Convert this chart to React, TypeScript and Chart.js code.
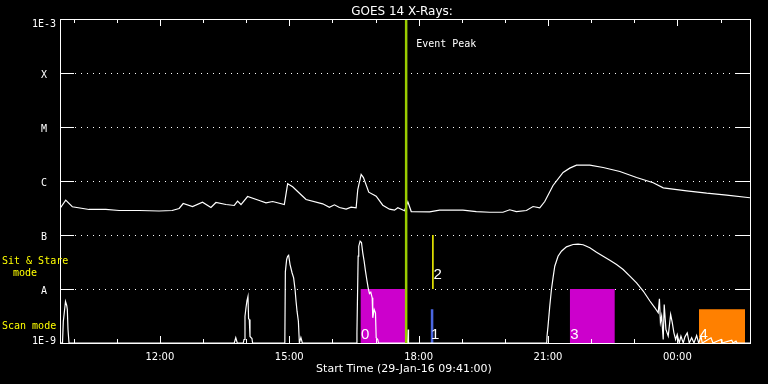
import React, { useEffect, useRef } from "react";
import { Chart, registerables } from "chart.js";

Chart.register(...registerables);

// ---- axis setup (hours since 00:00 on 29-Jan-16; 24+ = next day) ----
const xMin = 9.6833; // 09:41
const xMax = 25.6833; // 01:41
const xTickHours = [10, 11, 12, 13, 14, 15, 16, 17, 18, 19, 20, 21, 22, 23, 24, 25];
const xLabelHours = [12, 15, 18, 21, 24];
const xLabelText = ["12:00", "15:00", "18:00", "21:00", "00:00"];
const yTickValues = [1e-9, 1e-8, 1e-7, 1e-6, 1e-5, 1e-4, 1e-3];
const yTickLabels = ["1E-9", "A", "B", "C", "M", "X", "1E-3"];

// ---- long channel (1-8 A) flux, W/m^2 ----
const longTimes = [
  9.683, 9.816, 9.969, 10.357, 10.745, 11.054, 11.518, 11.982, 12.284, 12.446,
  12.540, 12.756, 12.988, 13.183, 13.299, 13.532, 13.724, 13.801, 13.880, 14.033,
  14.305, 14.460, 14.614, 14.885, 14.962, 15.078, 15.310, 15.389, 15.775, 15.930,
  16.047, 16.163, 16.318, 16.434, 16.550, 16.588, 16.667, 16.720, 16.843, 17.015,
  17.168, 17.324, 17.440, 17.517, 17.672, 17.749, 17.828, 18.253, 18.485, 19.026,
  19.337, 19.646, 19.955, 20.111, 20.266, 20.499, 20.652, 20.808, 20.924, 21.116,
  21.349, 21.504, 21.660, 21.969, 22.278, 22.666, 23.053, 23.439, 23.671, 24.214,
  24.679, 25.143, 25.684,
];
const longFlux = [
  3.10e-7, 4.41e-7, 3.33e-7, 2.97e-7, 2.97e-7, 2.84e-7, 2.84e-7, 2.78e-7, 2.84e-7, 3.10e-7,
  3.83e-7, 3.37e-7, 4.05e-7, 3.23e-7, 4.00e-7, 3.67e-7, 3.52e-7, 4.23e-7, 3.67e-7, 5.16e-7,
  4.35e-7, 3.95e-7, 4.17e-7, 3.67e-7, 8.88e-7, 7.81e-7, 5.23e-7, 4.54e-7, 3.78e-7, 3.27e-7,
  3.62e-7, 3.23e-7, 3.01e-7, 3.27e-7, 3.19e-7, 6.96e-7, 1.32e-6, 1.16e-6, 6.21e-7, 5.23e-7,
  3.56e-7, 3.01e-7, 2.88e-7, 3.19e-7, 2.81e-7, 4.12e-7, 2.72e-7, 2.69e-7, 2.88e-7, 2.88e-7,
  2.72e-7, 2.64e-7, 2.64e-7, 2.93e-7, 2.72e-7, 2.84e-7, 3.37e-7, 3.19e-7, 4.17e-7, 8.26e-7,
  1.44e-6, 1.73e-6, 1.96e-6, 1.96e-6, 1.78e-6, 1.50e-6, 1.16e-6, 9.26e-7, 7.48e-7, 6.59e-7,
  5.94e-7, 5.46e-7, 4.89e-7,
];

// ---- short channel (0.5-4 A) flux, W/m^2 ----
const shortTimes = [
  9.683, 9.741, 9.760, 9.811, 9.839, 9.853, 9.869, 9.892, 13.724, 13.759,
  13.794, 13.933, 13.950, 13.973, 13.996, 14.019, 14.042, 14.056, 14.073, 14.089,
  14.135, 14.149, 14.897, 14.909, 14.939, 14.962, 14.985, 15.018, 15.064, 15.101,
  15.134, 15.157, 15.180, 15.211, 15.234, 15.269, 15.303, 16.564, 16.569, 16.597,
  16.611, 16.643, 16.674, 16.704, 16.736, 16.767, 16.797, 16.829, 16.859, 16.890,
  16.922, 16.936, 16.969, 16.999, 17.015, 17.052, 17.069, 17.742, 17.754, 17.765,
  20.970, 20.977, 21.000, 21.040, 21.079, 21.116, 21.156, 21.232, 21.311, 21.427,
  21.581, 21.697, 21.813, 21.969, 22.124, 22.278, 22.433, 22.589, 22.742, 22.898,
  23.053, 23.207, 23.362, 23.478, 23.555, 23.583, 23.606, 23.634, 23.671, 23.694,
  23.734, 23.787, 23.843, 23.880, 23.919, 23.959, 23.996, 24.042, 24.082, 24.135,
  24.175, 24.228, 24.275, 24.330, 24.384, 24.446, 24.493, 24.547, 24.577, 24.779,
  24.825, 25.011, 25.034, 25.260, 25.290, 25.359, 25.383, 25.684,
];
const shortFlux = [
  1e-9, 1e-9, 2.5e-9, 5.87e-9, 4.95e-9, 4.17e-9, 1.78e-9, 1e-9, 1e-9, 1.25e-9,
  1e-9, 1e-9, 1.16e-9, 3.13e-9, 4.49e-9, 6.12e-9, 7.26e-9, 2.84e-9, 2.72e-9, 1.32e-9,
  1.21e-9, 1e-9, 1e-9, 2.08e-8, 3.52e-8, 4.05e-8, 4.23e-8, 2.84e-8, 2.0e-8, 1.61e-8,
  9.79e-9, 5.94e-9, 3.88e-9, 2.53e-9, 1e-9, 1.26e-9, 1e-9, 1e-9, 1.56e-9, 4.05e-8,
  6.2e-8, 7.68e-8, 7.26e-8, 4.68e-8, 3.27e-8, 2.14e-8, 1.50e-8, 1.05e-8, 8.26e-9, 8.72e-9,
  6.87e-9, 2.93e-9, 4.17e-9, 3.62e-9, 1.25e-9, 1.16e-9, 1e-9, 1e-9, 1.78e-9, 1e-9,
  1e-9, 1.34e-9, 2.05e-9, 4.80e-9, 9.79e-9, 1.61e-8, 2.64e-8, 4.05e-8, 5.01e-8, 6.04e-8,
  6.67e-8, 6.75e-8, 6.60e-8, 5.79e-8, 4.80e-8, 4.05e-8, 3.41e-8, 2.84e-8, 2.30e-8, 1.73e-8,
  1.30e-8, 9.18e-9, 5.99e-9, 4.49e-9, 3.62e-9, 6.59e-9, 2.40e-9, 3.13e-9, 1.16e-9, 5.16e-9,
  1.78e-9, 1.34e-9, 3.37e-9, 2.40e-9, 1.54e-9, 1.16e-9, 1.44e-9, 1e-9, 1.34e-9, 1e-9,
  1.30e-9, 1.54e-9, 1e-9, 1.25e-9, 1e-9, 1.38e-9, 1e-9, 1.32e-9, 1e-9, 1.25e-9,
  1e-9, 1.16e-9, 1e-9, 1.13e-9, 1e-9, 1.08e-9, 1e-9, 1e-9,
];

// ---- event peak and observing blocks ----
const eventPeakTime = 17.71;
const scanStart = [16.65, 18.276, 21.504, 24.5];
const scanEnd = [17.71, 18.346, 22.549, 25.568];
const scanTop = [1e-8, 4.2e-9, 1e-8, 4.2e-9];
const scanColors = ["#cc00cc", "#4a66e0", "#cc00cc", "#ff8000"];
const sitStareTime = 18.33;
const sitStareRange = [1e-8, 1e-7];
const blockLabelText = ["0", "1", "2", "3", "4"];
const blockLabelTime = [16.65, 18.276, 18.33, 21.504, 24.5];
const blockLabelFlux = [1.19e-9, 1.19e-9, 1.53e-8, 1.19e-9, 1.19e-9];

const WHITE = "#ffffff";
const YELLOW = "#ffff00";
const GREEN = "#99cc00";
const MONO = '"DejaVu Sans Mono", monospace';
const SANS = '"DejaVu Sans", sans-serif';

const overlayPlugin = {
  id: "goesOverlay",
  beforeDraw(chart: any) {
    const ctx = chart.ctx;
    ctx.save();
    ctx.fillStyle = "#000";
    ctx.fillRect(0, 0, chart.width, chart.height);
    ctx.restore();
  },
  beforeDatasetsDraw(chart: any) {
    const { ctx, chartArea: a, scales } = chart;
    const y = scales.y;
    ctx.save();
    ctx.strokeStyle = WHITE;
    ctx.lineWidth = 1;
    ctx.setLineDash([1, 5]);
    yTickValues.slice(1, -1).forEach((v) => {
      const py = Math.round(y.getPixelForValue(v)) + 0.5;
      ctx.beginPath();
      ctx.moveTo(a.left + 15, py);
      ctx.lineTo(a.right - 14, py);
      ctx.stroke();
    });
    ctx.restore();
  },
  afterDatasetsDraw(chart: any) {
    const { ctx, chartArea: a, scales } = chart;
    const x = scales.x;
    const y = scales.y;
    ctx.save();
    ctx.strokeStyle = WHITE;
    ctx.lineWidth = 1;
    // frame
    ctx.strokeRect(a.left + 0.5, a.top + 0.5, a.right - a.left, a.bottom - a.top);
    // x ticks (top and bottom, inward)
    xTickHours.forEach((h) => {
      const px = Math.round(x.getPixelForValue(h)) + 0.5;
      const len = xLabelHours.includes(h) ? 7 : 4;
      ctx.beginPath();
      ctx.moveTo(px, a.bottom);
      ctx.lineTo(px, a.bottom - len);
      ctx.moveTo(px, a.top);
      ctx.lineTo(px, a.top + len);
      ctx.stroke();
    });
    // y ticks (left and right, inward)
    yTickValues.forEach((v) => {
      const py = Math.round(y.getPixelForValue(v)) + 0.5;
      ctx.beginPath();
      ctx.moveTo(a.left, py);
      ctx.lineTo(a.left + 14, py);
      ctx.moveTo(a.right - 14, py);
      ctx.lineTo(a.right, py);
      ctx.stroke();
    });

    ctx.fillStyle = WHITE;
    ctx.textBaseline = "alphabetic";
    // y labels
    ctx.font = `10px ${MONO}`;
    ctx.textAlign = "center";
    yTickValues.forEach((v, i) => {
      const py = y.getPixelForValue(v);
      const cy = Math.min(Math.max(py + 1, a.top + 4), a.bottom - 3);
      ctx.fillText(yTickLabels[i], a.left - 16, cy + 4);
    });
    // x labels
    ctx.font = `10px ${SANS}`;
    xLabelHours.forEach((h, i) => {
      ctx.fillText(xLabelText[i], x.getPixelForValue(h), a.bottom + 17);
    });
    // title
    ctx.font = `12px ${SANS}`;
    ctx.fillText("GOES 14 X-Rays:", (a.left + a.right) / 2 - 3, 15);
    // x axis title
    ctx.font = `11px ${SANS}`;
    ctx.fillText("Start Time (29-Jan-16 09:41:00)", (a.left + a.right) / 2 - 1, a.bottom + 29);
    // event peak
    ctx.font = `10px ${MONO}`;
    ctx.textAlign = "left";
    ctx.fillText("Event Peak", x.getPixelForValue(eventPeakTime) + 10, a.top + 28);
    // mode labels
    ctx.fillStyle = YELLOW;
    ctx.fillText("Sit & Stare", 2, 263.5);
    ctx.textAlign = "center";
    ctx.fillText("mode", 25, 275.5);
    ctx.textAlign = "left";
    ctx.fillText("Scan mode", 2, 328.5);
    // block labels
    ctx.fillStyle = WHITE;
    ctx.font = `15px "Liberation Sans", sans-serif`;
    blockLabelText.forEach((t, i) => {
      ctx.fillText(t, x.getPixelForValue(blockLabelTime[i]) + 0.5, y.getPixelForValue(blockLabelFlux[i]));
    });
    ctx.restore();
  },
};

export default function App() {
  const canvasRef = useRef<HTMLCanvasElement | null>(null);

  useEffect(() => {
    document.body.style.margin = "0";
    document.body.style.background = "#000";
    const canvas = canvasRef.current;
    if (!canvas) return;

    const lineStyle = {
      borderColor: WHITE,
      borderWidth: 1.2,
      pointRadius: 0,
      tension: 0,
      fill: false,
    };

    const datasets: any[] = [
      {
        ...lineStyle,
        label: "Event Peak",
        borderColor: GREEN,
        borderWidth: 2.5,
        data: [
          { x: eventPeakTime, y: yTickValues[0] },
          { x: eventPeakTime, y: yTickValues[yTickValues.length - 1] },
        ],
      },
      {
        ...lineStyle,
        label: "Long",
        data: longTimes.map((t, i) => ({ x: t, y: longFlux[i] })),
      },
      {
        ...lineStyle,
        label: "Short",
        data: shortTimes.map((t, i) => ({ x: t, y: shortFlux[i] })),
      },
      {
        ...lineStyle,
        label: "Sit & Stare",
        borderColor: YELLOW,
        borderWidth: 1.5,
        data: [
          { x: sitStareTime, y: sitStareRange[0] },
          { x: sitStareTime, y: sitStareRange[1] },
        ],
      },
      ...scanStart.map((s, i) => ({
        label: `block ${i}`,
        data: [
          { x: s, y: scanTop[i] },
          { x: scanEnd[i], y: scanTop[i] },
        ],
        borderColor: "rgba(0,0,0,0)",
        borderWidth: 1,
        backgroundColor: scanColors[i],
        pointRadius: 0,
        fill: "start",
        tension: 0,
      })),
    ];

    const chart = new Chart(canvas, {
      type: "line",
      data: { datasets },
      options: {
        animation: false,
        responsive: true,
        maintainAspectRatio: false,
        events: [],
        layout: { padding: { left: 60, right: 18, top: 19, bottom: 41 } },
        scales: {
          x: { type: "linear", min: xMin, max: xMax, display: false },
          y: { type: "logarithmic", min: 1e-9, max: 1e-3, display: false },
        },
        plugins: {
          legend: { display: false },
          tooltip: { enabled: false },
          title: { display: false },
        },
      },
      plugins: [overlayPlugin],
    } as any);

    return () => chart.destroy();
  }, []);

  return (
    <div style={{ position: "relative", width: 768, height: 384, background: "#000" }}>
      <canvas ref={canvasRef} />
    </div>
  );
}
